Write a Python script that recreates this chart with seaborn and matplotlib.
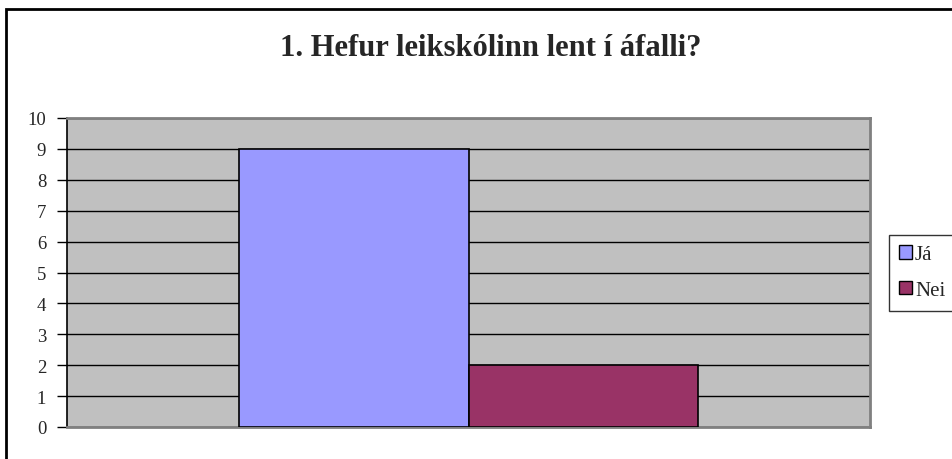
import matplotlib
matplotlib.use("Agg")
import matplotlib.pyplot as plt
import seaborn as sns
import pandas as pd
from matplotlib.patches import Rectangle, Patch

title = "1. Hefur leikskólinn lent í áfalli?"
series = ["Já", "Nei"]
values = [9, 2]
colors = ["#9999FF", "#993366"]
yticks = list(range(0, 11))

df = pd.DataFrame({"cat": ["q1", "q1"], "svar": series, "fjoldi": values})

sns.set_theme(style="white")
plt.rcParams['font.family'] = ['Liberation Serif', 'DejaVu Serif']

fig = plt.figure(figsize=(9.52, 4.6), dpi=100)
ax = fig.add_axes([67/952, 1-428/460, (870-67)/952, (428-119)/460])
ax.set_facecolor("#C0C0C0")

sns.barplot(data=df, x="cat", y="fjoldi", hue="svar", palette=colors,
            width=0.572, edgecolor="black", linewidth=1.2, ax=ax, legend=False,
            saturation=1, zorder=3)

ax.set_ylim(0, 10)
ax.set_xlim(-0.5, 0.5)
ax.set_yticks(yticks)
ax.set_yticklabels([str(t) for t in yticks], fontsize=13.5)
ax.set_xticks([])
ax.set_xlabel("")
ax.set_ylabel("")
ax.yaxis.grid(True, color="black", linewidth=1.0, zorder=1)
ax.set_axisbelow(True)
ax.tick_params(axis="y", direction="out", length=7, width=1, color="black", pad=8, left=True)
for s in ["top", "right", "bottom"]:
    ax.spines[s].set_color("#808080")
    ax.spines[s].set_linewidth(2)
ax.spines["left"].set_color("black")
ax.spines["left"].set_linewidth(1.2)

fig.text(0.515, 1-49/460, title, ha="center", va="center", fontsize=22, fontweight="bold")

handles = [Patch(facecolor=c, edgecolor="black", linewidth=1) for c in colors]
leg = fig.legend(handles, series, loc="upper left", bbox_to_anchor=(889/952, 1-236/460),
                 fontsize=15, frameon=True, fancybox=False, edgecolor="black",
                 handlelength=0.6, handleheight=0.6, handletextpad=0.15,
                 borderpad=0.5, labelspacing=0.8, borderaxespad=0)
leg.get_frame().set_linewidth(1)

fig.patches.append(Rectangle((6/952, -0.1), 1.2, 1-10/460+0.1, transform=fig.transFigure,
                             fill=False, edgecolor="black", linewidth=2))

fig.savefig("out.png", dpi=100)
